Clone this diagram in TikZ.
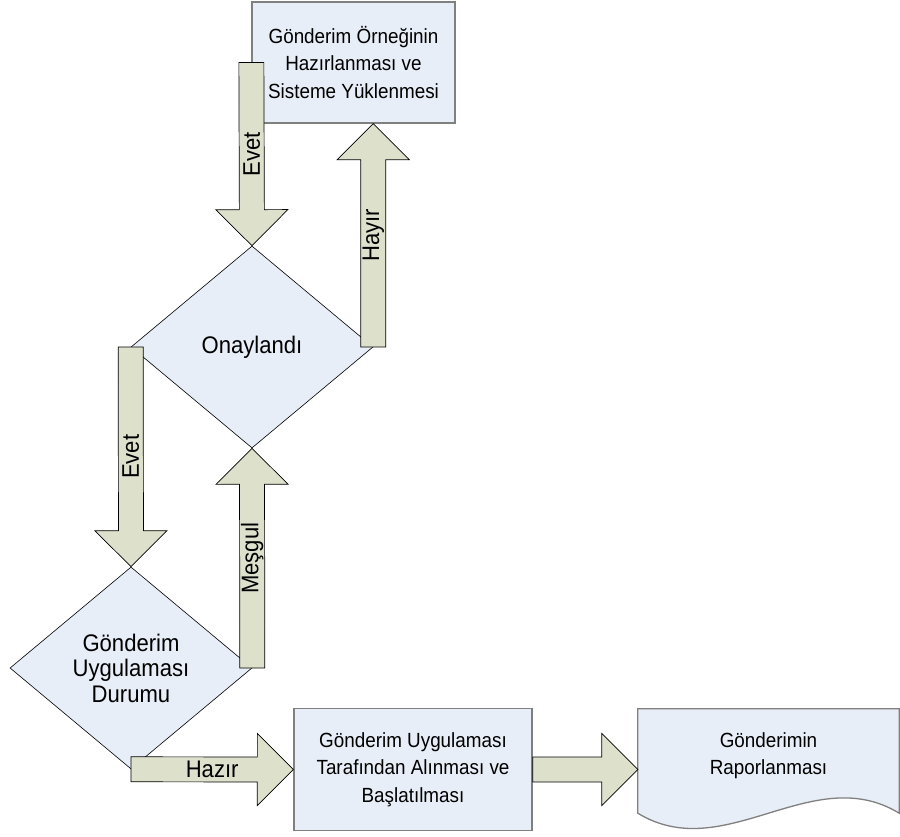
\documentclass[tikz,border=0pt]{standalone}
\usepackage{fontspec}
\setmainfont[FakeStretch=0.92]{Liberation Sans}
\usetikzlibrary{calc,shapes.geometric}
\definecolor{boxfill}{RGB}{232,238,247}
\definecolor{arrowfill}{RGB}{221,225,204}
\definecolor{boxline}{RGB}{128,128,128}
% [label rotation]{name}{tail}{tip}{label}
\newcommand{\blockarrow}[5][0]{%
  \coordinate (#2-base) at ($(#4)!36pt!(#3)$);
  \draw[arrowbody] ($(#3)!12.5pt!90:(#4)$) -- ($(#2-base)!12.5pt!90:(#4)$)
    -- ($(#2-base)!36pt!90:(#4)$) -- (#4) -- ($(#2-base)!36pt!-90:(#4)$)
    -- ($(#2-base)!12.5pt!-90:(#4)$) -- ($(#3)!12.5pt!-90:(#4)$) -- cycle;
  \node[arrowlabel, rotate=#1] (#2) at ($(#3)!0.5!(#4)$) {#5};
}
\begin{document}
\begin{tikzpicture}[x=1pt, y=-1pt, font=\fontsize{20.5}{27.5}\selectfont,
    box/.style = {draw=boxline, line width=1.3pt, fill=boxfill, align=center, inner sep=0pt},
    decision/.style = {diamond, aspect=1.2, draw, line width=0.6pt, fill=boxfill, align=center,
      inner sep=0pt, minimum width=242pt, minimum height=202pt, font=\fontsize{24}{25.5}\selectfont},
    arrowbody/.style = {draw=black, line width=0.7pt, fill=arrowfill},
    arrowlabel/.style = {inner sep=0pt, font=\fontsize{24}{25.5}\selectfont}]
    \useasboundingbox (0,0) rectangle (900,836);
    % blocchi del diagramma
    \node[box, minimum width=203pt, minimum height=121pt] (prep) at (353.5,62.5)
        {Gönderim Örneğinin\\Hazırlanması ve\\Sisteme Yüklenmesi};
    \node[decision] (approved) at (252,347) {Onaylandı};
    \node[decision] (status) at (131,668) {Gönderim\\Uygulaması\\Durumu};
    \node[box, minimum width=238pt, minimum height=122pt] (start) at (413,769.5)
        {Gönderim Uygulaması\\Tarafından Alınması ve\\Başlatılması};
    \node[minimum width=261pt, minimum height=121pt, inner sep=0pt] (report) at (768.5,769.5) {};
    \draw[box] ([yshift=17pt]report.south west) -- (report.north west) -- (report.north east)
        -- ([yshift=17pt]report.south east)
        .. controls ([xshift=-87pt,yshift=70pt]report.south east) and ([xshift=87pt,yshift=-36pt]report.south west)
        .. ([yshift=17pt]report.south west) -- cycle;
    \node[align=center] (report-text) at ([yshift=14pt]report.center) {Gönderimin\\Raporlanması};

    % frecce
    \coordinate (hayir-tip) at (approved.east |- prep.south);
    \blockarrow[90]{evet-top}{prep.west}{approved.north}{Evet}
    \blockarrow[90]{hayir}{approved.east}{hayir-tip}{Hayır}
    \blockarrow[90]{evet-low}{approved.west}{status.north}{Evet}
    \blockarrow[90]{mesgul}{status.east}{approved.south}{Meşgul}
    \blockarrow{hazir}{status.south}{start.west}{Hazır}
    \blockarrow{to-report}{start.east}{report.west}{}
\end{tikzpicture}
\end{document}
